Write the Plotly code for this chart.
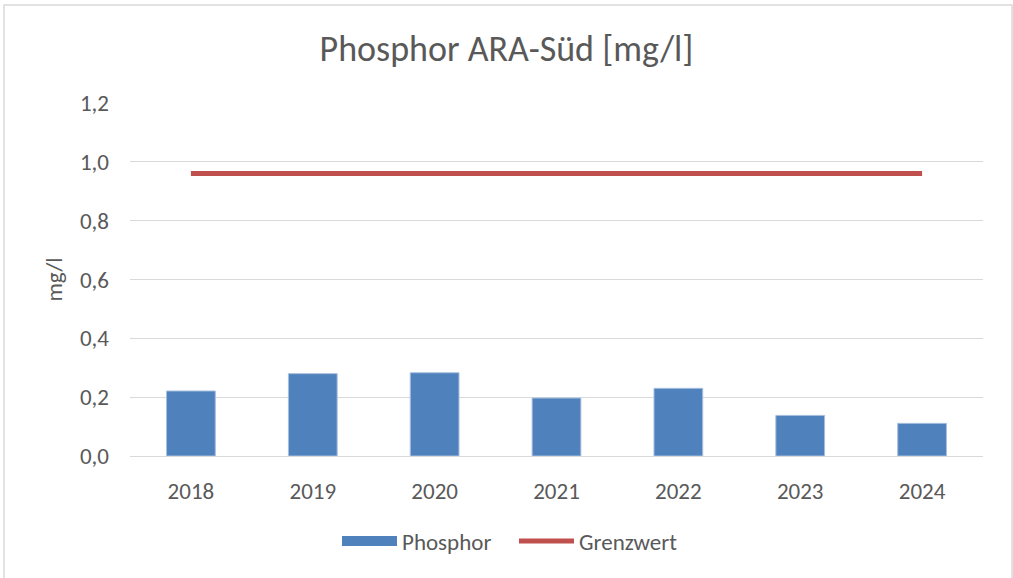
import plotly.graph_objects as go

years = ["2018", "2019", "2020", "2021", "2022", "2023", "2024"]
phosphor = [0.221, 0.280, 0.283, 0.197, 0.230, 0.138, 0.111]
grenzwert = [0.96, 0.96, 0.96, 0.96, 0.96, 0.96, 0.96]
y_ticks = [0.0, 0.2, 0.4, 0.6, 0.8, 1.0, 1.2]
y_tick_labels = ["0,0", "0,2", "0,4", "0,6", "0,8", "1,0", "1,2"]

font_family = "Carlito, Calibri, Lato, sans-serif"
txt = "#595959"
bar_color = "#4F81BD"

fig = go.Figure()
fig.add_trace(go.Bar(x=years, y=phosphor, name="Phosphor", showlegend=False,
                     legendgroup="p",
                     marker=dict(color=bar_color, line=dict(color="#A7BFDE", width=1))))
# legend-only entry giving the wide rectangular swatch of the bar series
fig.add_trace(go.Scatter(x=[None], y=[None], name="Phosphor", mode="lines",
                         legendgroup="p", hoverinfo="skip",
                         line=dict(color=bar_color, width=14)))
fig.add_trace(go.Scatter(x=years, y=grenzwert, name="Grenzwert", mode="lines",
                         line=dict(color="#C0504D", width=5)))

fig.update_layout(
    width=1013, height=578,
    margin=dict(l=130, r=30, t=103, b=122),
    paper_bgcolor="white", plot_bgcolor="white",
    font=dict(family=font_family, color=txt, size=23),
    title=dict(text="Phosphor ARA-Süd [mg/l]", x=0.5, xanchor="center",
               y=1 - 48 / 578, yanchor="middle",
               font=dict(size=36, color=txt, family=font_family)),
    bargap=0.6,
    showlegend=True,
    legend=dict(orientation="h", x=(514 - 130) / 853, xanchor="center",
                y=(456 - 541) / 353, yanchor="middle", itemwidth=55,
                entrywidth=107, entrywidthmode="pixels",
                font=dict(size=23, color=txt), bgcolor="rgba(0,0,0,0)"),
    shapes=[dict(type="rect", xref="paper", yref="paper",
                 x0=-126 / 853, x1=(1012 - 130) / 853,
                 y0=-(583 - 456) / 353, y1=(456 - 5) / 353,
                 line=dict(color="#D9D9D9", width=1.5), layer="below")],
)
fig.update_xaxes(showgrid=False, showline=True, linecolor="#D9D9D9", linewidth=1,
                 ticks="", ticklabelstandoff=14, tickfont=dict(size=23, color=txt))
fig.update_yaxes(range=[0, 1.2], tickvals=y_ticks, ticktext=y_tick_labels,
                 showgrid=True, gridcolor="#D9D9D9", gridwidth=1,
                 zeroline=False, showline=False, ticks="", ticklabelstandoff=20,
                 tickfont=dict(size=23, color=txt),
                 title=dict(text="mg/l", font=dict(size=23, color=txt), standoff=10))

fig.write_html("out.html", config={"displayModeBar": False},
               post_script="document.body.style.margin='0';")
